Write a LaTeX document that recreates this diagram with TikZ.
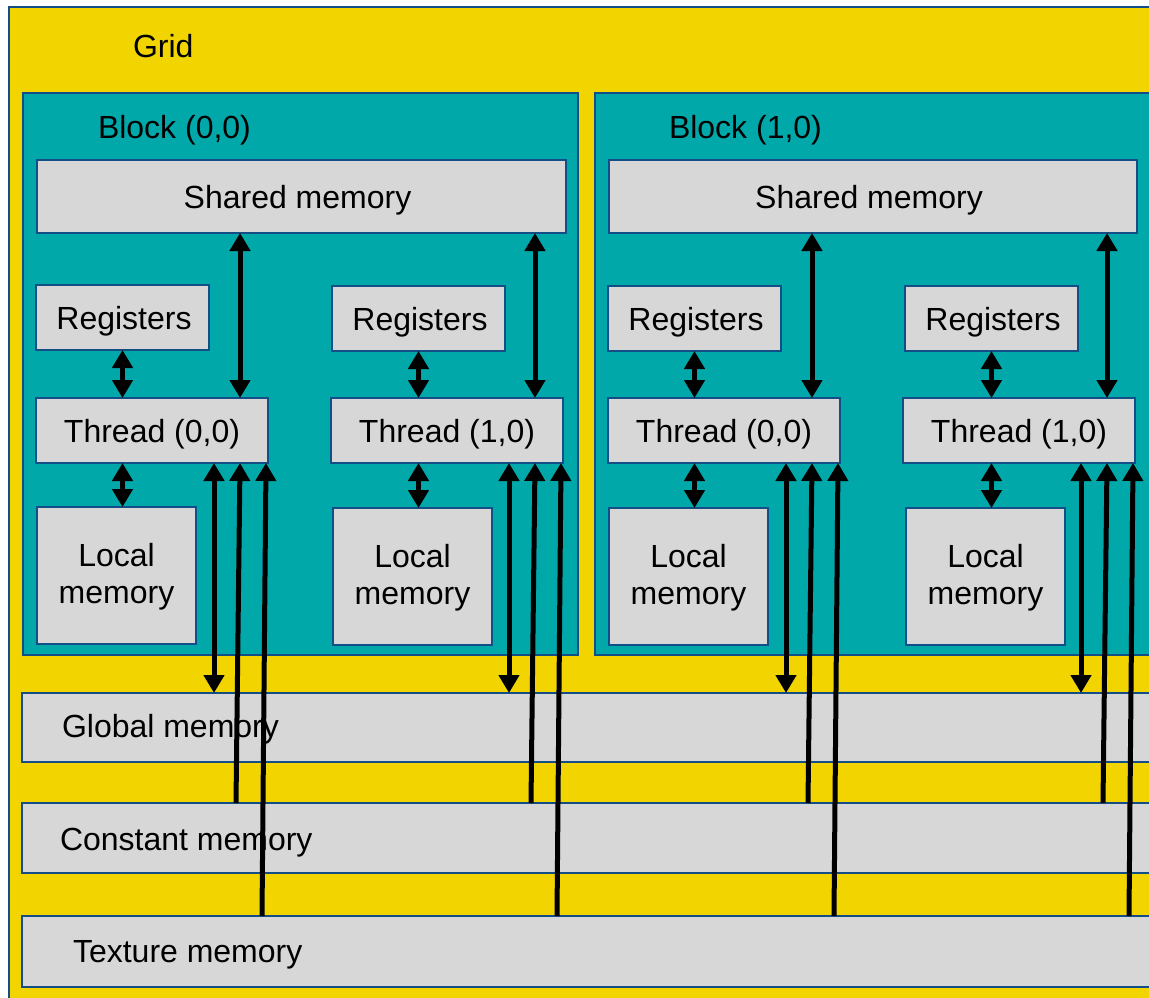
\documentclass[tikz,border=0pt]{standalone}
\usepackage{fontspec}
\setmainfont{Liberation Sans}
\usetikzlibrary{arrows.meta,calc}
\definecolor{gridyellow}{RGB}{242,213,0}
\definecolor{blockteal}{RGB}{0,168,170}
\definecolor{boxgrey}{RGB}{215,215,215}
\definecolor{edgeblue}{RGB}{20,78,135}
\begin{document}
\begin{tikzpicture}[x=1pt,y=-1pt,
  every node/.style={font=\fontsize{32}{37}\selectfont, inner sep=0pt, outer sep=0pt},
  gridbox/.style={fill=gridyellow, draw=edgeblue, line width=2pt, anchor=north west},
  blockbox/.style={fill=blockteal, draw=edgeblue, line width=2pt, anchor=north west},
  membox/.style={fill=boxgrey, draw=edgeblue, line width=2pt, anchor=north west},
  oneline/.style={text height=24pt, text depth=0pt},
  lbl/.style={anchor=base west, text=black},
  tip/.tip={Triangle[width=20pt,length=18pt]},
  dbl/.style={line width=5pt, tip-tip},
  uni/.style={line width=5pt, -tip}
]
\useasboundingbox (0,0) rectangle (1149,998);
\fill[white] (0,0) rectangle (1149,998);
\clip (0,0) rectangle (1149,998);

% grid
\node[gridbox, minimum width=1200pt, minimum height=1050pt] (grid) at (9,7) {};
\node[lbl] (gridlbl) at (133,58) {Grid};

% blocks
\node[blockbox, minimum width=555pt, minimum height=562pt] (blk0) at (23,93) {};
\node[blockbox, minimum width=555pt, minimum height=562pt] (blk1) at (595,93) {};
\node[lbl] (blk0lbl) at (98,138) {Block (0,0)};
\node[lbl] (blk1lbl) at (669,138) {Block (1,0)};

% shared memories
\node[membox, oneline, minimum width=529pt, minimum height=73pt] (sh0) at (37,160) {Shared memory\hspace*{8pt}};
\node[membox, oneline, minimum width=528pt, minimum height=73pt] (sh1) at (609,160) {Shared memory\hspace*{8pt}};

% global / constant / texture memories
\node[membox, minimum width=1200pt, minimum height=69pt] (glob) at (22,693) {};
\node[membox, minimum width=1200pt, minimum height=70pt] (const) at (22,803) {};
\node[membox, minimum width=1200pt, minimum height=71pt] (tex) at (22,916) {};
\node[lbl] (globlbl) at (62,737) {Global memory};
\node[lbl] (constlbl) at (60,850) {Constant memory};
\node[lbl] (texlbl) at (73,962) {Texture memory};

% threads
\foreach \i/\tx/\rx/\lx/\ry/\ly/\sh/\tl in {0/36/36/37/285/507/sh0/{(0,0)}, 1/331/332/333/286/508/sh0/{(1,0)}, 2/608/608/609/286/508/sh1/{(0,0)}, 3/903/905/906/286/508/sh1/{(1,0)}}{
  \node[membox, oneline, minimum width=173pt, minimum height=65pt] (reg\i) at (\rx,\ry) {\hspace*{3pt}Registers};
  \node[membox, oneline, minimum width=232pt, minimum height=65pt] (thr\i) at (\tx,398) {Thread \tl};
  \node[membox, minimum width=159pt, minimum height=137pt, align=center] (loc\i) at (\lx,\ly) {\rule{0pt}{26pt}Local\\memory};
}

\foreach \i/\sh in {0/sh0, 1/sh0, 2/sh1, 3/sh1}{
  \coordinate (sa\i) at ([xshift=204pt]thr\i.north west);
  \coordinate (ga\i) at ([xshift=178pt]thr\i.south west);
  \coordinate (ctop\i) at ([xshift=204pt]thr\i.south west);
  \coordinate (cbot\i) at ([xshift=200pt]thr\i.south west);
  \coordinate (ttop\i) at ([xshift=230pt]thr\i.south west);
  \coordinate (tbot\i) at ([xshift=226pt]thr\i.south west);
  \draw[dbl] (reg\i.south) -- (reg\i.south |- thr\i.north);
  \draw[dbl] (thr\i.south -| reg\i.south) -- (loc\i.north -| reg\i.south);
  \draw[dbl] (sa\i |- \sh.south) -- (sa\i);
  \draw[dbl] (ga\i) -- (ga\i |- glob.north);
  \draw[uni] (cbot\i |- const.north) -- (ctop\i);
  \draw[uni] (tbot\i |- tex.north) -- (ttop\i);
}
\end{tikzpicture}
\end{document}
